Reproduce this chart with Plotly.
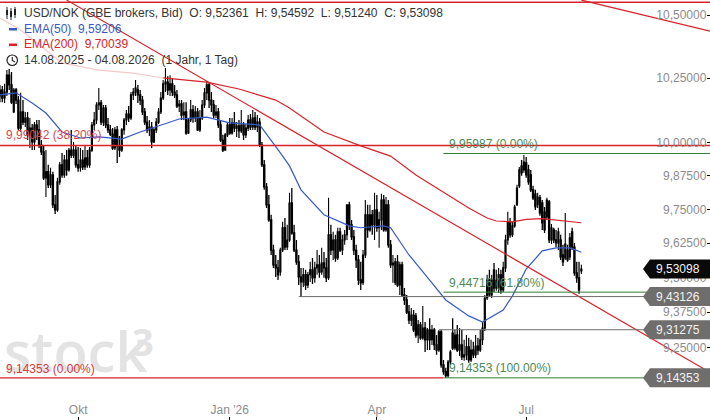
#!/usr/bin/env python3
# -*- coding: utf-8 -*-

# Import packages
import math
import pandas as pd
import plotly.graph_objects as go

###############################################################################
# Data (daily candles)
###############################################################################

first_day = "2025-08-14"
axis_end = "2026-10-21"

open_prices = [
    10.181,10.204,10.173,10.196,10.262,10.224,10.119,10.204,10.165,10.057,
    10.119,10.080,10.096,10.031,10.057,10.004,10.069,10.050,9.992,9.966,
    9.868,9.891,9.842,9.879,9.767,9.748,9.853,9.917,9.879,9.935,
    9.898,9.973,9.954,9.973,9.917,9.906,9.935,9.909,9.943,9.917,
    9.973,10.069,10.088,10.146,10.154,10.080,10.134,10.069,10.050,10.034,
    9.981,10.050,9.989,9.973,10.050,10.088,10.111,10.096,10.185,10.196,
    10.204,10.185,10.165,10.119,10.080,10.050,10.061,10.004,10.050,10.080,
    10.119,10.173,10.228,10.235,10.204,10.228,10.196,10.185,10.142,10.150,
    10.107,10.119,10.038,10.088,10.127,10.096,10.119,10.050,10.096,10.146,
    10.193,10.224,10.165,10.146,10.107,10.119,10.069,10.011,9.973,10.031,
    10.069,10.038,10.077,10.057,10.065,10.046,10.069,10.031,10.057,10.088,
    10.061,10.096,10.061,10.080,9.992,9.917,9.834,9.767,9.711,9.600,
    9.546,9.535,9.520,9.600,9.682,9.611,9.637,9.774,9.663,9.600,
    9.557,9.502,9.484,9.510,9.473,9.510,9.528,9.499,9.535,9.546,
    9.520,9.553,9.535,9.499,9.656,9.600,9.637,9.571,9.667,9.600,
    9.637,9.656,9.767,9.693,9.648,9.600,9.564,9.491,9.481,9.582,
    9.730,9.674,9.730,9.693,9.748,9.682,9.711,9.785,9.674,9.767,
    9.619,9.546,9.481,9.557,9.473,9.546,9.437,9.419,9.376,9.347,
    9.365,9.362,9.294,9.330,9.284,9.319,9.277,9.312,9.277,
    9.312,9.259,9.241,9.305,9.189,9.165,9.151,9.199,9.301,9.248,
    9.294,9.241,9.259,9.217,9.224,9.252,9.206,9.241,9.224,9.255,
    9.241,9.277,9.319,9.426,9.491,9.437,9.528,9.462,9.462,9.510,9.455,
    9.535,9.637,9.704,9.656,9.689,9.767,9.838,9.913,9.898,9.924,
    9.898,9.879,9.823,9.808,9.767,9.793,9.774,9.741,9.722,9.778,
    9.637,9.674,9.637,9.626,9.637,9.582,9.571,9.600,9.575,9.667,
    9.611,9.517,9.499,9.52361]

high_prices = [
    10.224,10.220,10.228,10.282,10.286,10.274,10.212,10.212,10.181,10.193,
    10.165,10.119,10.119,10.096,10.073,10.080,10.088,10.088,10.011,9.989,
    9.973,9.917,9.906,9.891,9.804,9.868,9.928,9.962,9.954,9.973,
    9.981,10.050,10.004,9.992,9.985,9.981,9.973,9.989,9.973,9.985,
    10.080,10.119,10.157,10.212,10.165,10.146,10.146,10.096,10.069,10.057,
    10.061,10.065,10.027,10.057,10.096,10.127,10.142,10.196,10.212,10.243,
    10.224,10.204,10.181,10.134,10.103,10.088,10.080,10.057,10.096,10.134,
    10.196,10.243,10.290,10.258,10.262,10.251,10.224,10.204,10.165,10.165,
    10.157,10.157,10.096,10.165,10.146,10.142,10.134,10.127,10.165,10.212,
    10.239,10.235,10.196,10.165,10.146,10.134,10.088,10.031,10.038,10.080,
    10.096,10.096,10.119,10.080,10.088,10.127,10.080,10.073,10.107,10.111,
    10.127,10.119,10.107,10.096,10.004,9.935,9.849,9.804,9.730,9.619,
    9.582,9.564,9.608,9.704,9.718,9.693,9.812,9.830,9.693,9.637,
    9.582,9.535,9.535,9.528,9.520,9.557,9.571,9.557,9.600,9.582,
    9.608,9.593,9.571,9.793,9.693,9.667,9.656,9.682,9.682,9.656,
    9.674,9.767,9.778,9.711,9.674,9.619,9.582,9.557,9.600,9.785,
    9.767,9.767,9.748,9.812,9.804,9.741,9.808,9.804,9.796,9.785,
    9.637,9.582,9.571,9.582,9.557,9.557,9.462,9.437,9.401,9.390,
    9.383,9.372,9.347,9.340,9.397,9.340,9.319,9.354,9.330,
    9.319,9.294,9.312,9.312,9.206,9.179,9.206,9.241,9.354,9.312,
    9.330,9.319,9.312,9.277,9.294,9.284,9.277,9.270,9.294,9.284,
    9.312,9.340,9.437,9.510,9.528,9.510,9.553,9.528,9.535,9.528,9.557,
    9.656,9.741,9.718,9.704,9.767,9.842,9.909,9.935,9.954,9.947,
    9.917,9.898,9.838,9.823,9.812,9.804,9.785,9.759,9.793,9.785,
    9.696,9.682,9.674,9.682,9.656,9.619,9.737,9.619,9.663,9.682,
    9.626,9.557,9.557,9.54592]

low_prices = [
    10.157,10.157,10.154,10.181,10.204,10.150,10.115,10.150,10.050,10.042,
    10.069,10.061,10.011,9.981,9.973,9.973,10.011,9.981,9.954,9.860,
    9.796,9.830,9.830,9.755,9.733,9.741,9.842,9.868,9.868,9.876,
    9.891,9.943,9.943,9.906,9.891,9.891,9.898,9.898,9.906,9.906,
    9.966,10.050,10.073,10.127,10.069,10.065,10.057,10.038,10.027,9.973,
    9.973,9.924,9.947,9.966,10.031,10.069,10.080,10.088,10.165,10.181,
    10.154,10.146,10.107,10.069,10.038,10.027,9.981,10.000,10.038,10.073,
    10.111,10.165,10.196,10.185,10.181,10.181,10.173,10.134,10.119,10.088,
    10.088,10.031,10.034,10.080,10.077,10.080,10.046,10.042,10.088,10.134,
    10.165,10.134,10.119,10.096,10.096,10.057,10.004,9.966,9.970,10.023,
    10.031,10.031,10.042,10.023,10.019,10.038,10.011,10.019,10.046,10.050,
    10.050,10.050,10.042,9.985,9.909,9.823,9.755,9.704,9.582,9.535,
    9.502,9.491,9.506,9.593,9.600,9.600,9.630,9.656,9.593,9.546,
    9.473,9.430,9.466,9.455,9.462,9.484,9.477,9.481,9.510,9.499,
    9.510,9.499,9.484,9.491,9.582,9.564,9.557,9.564,9.593,9.582,
    9.619,9.637,9.674,9.637,9.582,9.535,9.473,9.455,9.473,9.571,
    9.645,9.667,9.656,9.637,9.667,9.608,9.674,9.667,9.667,9.608,
    9.535,9.481,9.473,9.466,9.437,9.430,9.401,9.369,9.333,9.326,
    9.305,9.284,9.266,9.277,9.277,9.234,9.241,9.241,9.259,
    9.241,9.224,9.234,9.179,9.154,9.14353,9.144,9.189,9.241,9.241,
    9.234,9.220,9.206,9.203,9.206,9.196,9.199,9.213,9.213,9.224,
    9.234,9.259,9.308,9.419,9.430,9.426,9.448,9.452,9.444,9.441,9.448,
    9.520,9.619,9.645,9.648,9.682,9.763,9.830,9.876,9.887,9.868,
    9.842,9.815,9.785,9.748,9.755,9.726,9.674,9.663,9.711,9.626,
    9.622,9.626,9.611,9.600,9.564,9.542,9.564,9.557,9.564,9.600,
    9.506,9.481,9.441,9.5124]

close_prices = [
    10.204,10.173,10.196,10.262,10.224,10.157,10.204,10.165,10.057,10.119,
    10.080,10.096,10.031,10.057,10.004,10.069,10.050,9.992,9.966,9.868,
    9.891,9.842,9.879,9.767,9.748,9.853,9.917,9.879,9.935,9.898,
    9.973,9.954,9.973,9.917,9.906,9.935,9.909,9.943,9.917,9.973,
    10.069,10.088,10.146,10.154,10.080,10.134,10.069,10.050,10.034,9.981,
    10.050,9.989,9.973,10.050,10.088,10.111,10.096,10.185,10.196,10.212,
    10.185,10.165,10.119,10.080,10.050,10.061,10.004,10.050,10.080,10.119,
    10.173,10.228,10.235,10.204,10.228,10.196,10.185,10.142,10.150,10.107,
    10.119,10.038,10.088,10.127,10.096,10.119,10.050,10.096,10.146,10.193,
    10.224,10.165,10.146,10.107,10.119,10.069,10.011,9.973,10.031,10.069,
    10.038,10.077,10.057,10.065,10.046,10.069,10.031,10.057,10.088,10.061,
    10.096,10.061,10.080,9.992,9.917,9.834,9.767,9.711,9.600,9.546,
    9.535,9.510,9.600,9.682,9.611,9.637,9.774,9.663,9.600,9.557,
    9.502,9.484,9.510,9.473,9.510,9.528,9.499,9.535,9.546,9.520,
    9.553,9.535,9.499,9.656,9.600,9.637,9.571,9.667,9.600,9.637,
    9.656,9.767,9.693,9.648,9.600,9.564,9.491,9.481,9.582,9.730,
    9.674,9.730,9.693,9.748,9.682,9.711,9.785,9.674,9.767,9.619,
    9.546,9.553,9.557,9.473,9.546,9.437,9.419,9.376,9.347,9.365,
    9.312,9.294,9.330,9.284,9.319,9.277,9.312,9.277,9.312,
    9.259,9.241,9.305,9.189,9.165,9.151,9.199,9.234,9.248,9.294,
    9.241,9.259,9.217,9.224,9.252,9.206,9.241,9.224,9.255,9.241,
    9.277,9.319,9.426,9.491,9.437,9.491,9.462,9.490,9.510,9.455,9.535,
    9.637,9.704,9.656,9.689,9.759,9.830,9.898,9.887,9.928,9.879,
    9.853,9.823,9.793,9.759,9.796,9.737,9.700,9.674,9.785,9.637,
    9.682,9.637,9.626,9.667,9.575,9.557,9.622,9.564,9.645,9.611,
    9.517,9.499,9.455,9.53098]

# Moving averages: trading day number since first_day, value
ema50_days = [0,7,14,20,27,35,43,53,61,73,78,90,100,113,117,122,126,131,141,
              152,157,167,170,178,187,194,204,210,219,223,229,236,242,248,253]
ema50 = [10.185,10.193,10.154,10.115,10.042,10.019,10.023,10.015,10.042,10.077,
         10.092,10.099,10.077,10.069,10.023,9.962,9.913,9.823,9.730,9.689,9.682,
         9.689,9.682,9.582,9.491,9.419,9.362,9.340,9.383,9.433,9.531,9.597,
         9.608,9.608,9.59206]

ema200_days = [0,9,27,43,58,71,90,104,120,126,141,157,170,181,204,212,216,223,
               229,236,247,253]
ema200 = [10.488,10.440,10.310,10.282,10.270,10.251,10.235,10.208,10.165,10.134,
          10.042,9.989,9.950,9.879,9.755,9.718,9.707,9.704,9.713,9.716,9.707,
          9.70039]
ema200_fade_until = 5  # the first stretch is drawn pale

# Trend lines
trend1_dates = ["2025-09-24", "2026-10-19"]
trend1_prices = [10.560, 9.172]
trend2_dates = ["2026-08-04", axis_end]
trend2_prices = [10.560, 10.436]

# Levels
top_level = 10.551
fib_red_382 = 9.99042
fib_low = 9.14353
fib_high = 9.95987
fib_green_618 = 9.44716
support_1 = 9.43126
support_2 = 9.31275
last_close = 9.53098
level_start_day = 193
support_1_day = 130
support_2_day = 191

# Tick labels
y_ticks = [10.5, 10.25, 10.0, 9.875, 9.75, 9.625, 9.5, 9.375, 9.25]
y_labels = ["10,50000", "10,25000", "10,00000", "9,87500", "9,75000", "9,62500",
            "9,50000", "9,37500", "9,25000"]
x_ticks = ["2025-10-01", "2026-01-01", "2026-04-01", "2026-07-01"]
x_labels = ["Okt", "Jan '26", "Apr", "Jul"]

###############################################################################
# Helpers
###############################################################################

W, H = 710, 420
FONT = "Liberation Sans"
RED = "#d8232a"
PALE_RED = "#f6c9c9"
BLUE = "#3559c7"
GREEN = "#2f7d36"
GREEN_TXT = "#4c8a55"
GRAY = "#6f6e6c"
TICK_TXT = "#8c8c8c"

y_range = [math.log10(8.9977), math.log10(10.5603)]

dates = pd.bdate_range(first_day, periods=len(close_prices))


def px_x(x):
    return x / W


def px_y(y):
    return 1 - y / H


def price_y(price):
    return (math.log10(price) - y_range[0]) / (y_range[1] - y_range[0])


def comma(value):
    return f"{value:.5f}".replace(".", ",")


fig = go.Figure()

###############################################################################
# Traces
###############################################################################

fig.add_trace(go.Candlestick(
    x=dates, open=open_prices, high=high_prices, low=low_prices, close=close_prices,
    increasing=dict(line=dict(color="black", width=1.1), fillcolor="white"),
    decreasing=dict(line=dict(color="black", width=1.3), fillcolor="black"),
    whiskerwidth=0, showlegend=False))


def add_line(x, y, color, width=1.2):
    fig.add_trace(go.Scatter(x=x, y=y, mode="lines", showlegend=False,
                             line=dict(color=color, width=width)))


add_line(dates[ema200_days[:ema200_fade_until + 1]], ema200[:ema200_fade_until + 1], PALE_RED)
add_line(dates[ema200_days[ema200_fade_until:]], ema200[ema200_fade_until:], RED)
add_line(dates[ema50_days], ema50, BLUE)
add_line(trend1_dates, trend1_prices, RED)
add_line(trend2_dates, trend2_prices, RED)

# Horizontal levels
red_width = 1.4
thin_width = 1
add_line([first_day, axis_end], [top_level, top_level], RED, red_width)
add_line([first_day, axis_end], [fib_red_382, fib_red_382], RED, red_width)
add_line([first_day, dates[level_start_day]], [fib_low, fib_low], RED, red_width)
add_line([dates[level_start_day], axis_end], [fib_low, fib_low], GREEN, thin_width)
add_line([dates[level_start_day], axis_end], [fib_high, fib_high], GREEN, thin_width)
add_line([dates[level_start_day], axis_end], [fib_green_618, fib_green_618], GREEN, thin_width)
add_line([dates[support_1_day], axis_end], [support_1, support_1], GRAY, thin_width)
add_line([dates[support_2_day], axis_end], [support_2, support_2], GRAY, thin_width)

###############################################################################
# Price tags, icons and texts
###############################################################################

shapes = []
annotations = []


def text(x, y, s, color, size=12, anchor="left", family=FONT, weight=None):
    font = dict(family=family, size=size, color=color)
    if weight:
        font["weight"] = weight
    annotations.append(dict(xref="paper", yref="paper", x=px_x(x), y=px_y(y), text=s,
                            showarrow=False, xanchor=anchor, yanchor="middle",
                            font=font, borderpad=0, bgcolor="rgba(0,0,0,0)"))


def tag(price, color):
    mid = price_y(price)
    half = 9.5 / H
    left, body = px_x(643), px_x(650)
    shapes.append(dict(type="path", xref="paper", yref="paper", line_width=0, fillcolor=color,
                       path=f"M {left} {mid} L {body} {mid + half} L 1 {mid + half} "
                            f"L 1 {mid - half} L {body} {mid - half} Z"))
    annotations.append(dict(xref="paper", yref="paper", x=px_x(702), y=mid, text=comma(price),
                            showarrow=False, xanchor="right", yanchor="middle",
                            font=dict(family=FONT, size=12, color="#f2f2f2")))


tag(last_close, "#0a0a0a")
tag(support_1, GRAY)
tag(support_2, GRAY)
tag(fib_low, GRAY)

# Legend icons
for x0, top, bot, wt, wb in [(7, 10, 15, 7, 19), (11, 11, 17, 8, 20), (15, 9, 15, 7, 18)]:
    shapes.append(dict(type="line", xref="paper", yref="paper", x0=px_x(x0), x1=px_x(x0),
                       y0=px_y(wt), y1=px_y(wb), line=dict(color="#222", width=1)))
    shapes.append(dict(type="rect", xref="paper", yref="paper", x0=px_x(x0 - 1), x1=px_x(x0 + 1),
                       y0=px_y(top), y1=px_y(bot), fillcolor="#222", line_width=0))
shapes.append(dict(type="rect", xref="paper", yref="paper", x0=px_x(9), x1=px_x(17),
                   y0=px_y(28), y1=px_y(30.5), fillcolor=BLUE, line_width=0))
shapes.append(dict(type="rect", xref="paper", yref="paper", x0=px_x(9), x1=px_x(17),
                   y0=px_y(43.5), y1=px_y(46), fillcolor=RED, line_width=0))
shapes.append(dict(type="circle", xref="paper", yref="paper", x0=px_x(7), x1=px_x(17.5),
                   y0=px_y(55), y1=px_y(65.5), line=dict(color="#222", width=1.2)))
shapes.append(dict(type="path", xref="paper", yref="paper", line=dict(color="#222", width=1.1),
                   path=f"M {px_x(12.3)} {px_y(57)} L {px_x(12.3)} {px_y(60.5)} L {px_x(15)} {px_y(62)}"))

# Watermark
text(3, 350, "stock", "#e3e3e3", size=56, family="Open Sans", weight=600)
text(131, 341, "3", "#e3e3e3", size=38, family="Open Sans", weight=700)

# Legend texts
text(23, 13, "USD/NOK (GBE brokers, Bid)  O: 9,52361  H: 9,54592  L: 9,51240  C: 9,53098", "#333333")
text(23, 29, "EMA(50)  9,59206", BLUE)
text(23, 44, "EMA(200)  9,70039", RED)
text(23, 60, "14.08.2025 - 04.08.2026  (1 Jahr, 1 Tag)", "#333333")

# Fibonacci labels
text(5, 135, f"{comma(fib_red_382)} (38.20%)", "#d64a4a")
text(5, 369, f"{comma(fib_low)} (0.00%)", "#d63a3a")
text(448, 144, f"{comma(fib_high)} (0.00%)", GREEN_TXT)
text(448, 283, f"{comma(fib_green_618)} (61.80%)", GREEN_TXT)
text(448, 368, f"{comma(fib_low)} (100.00%)", GREEN_TXT)

###############################################################################
# Layout
###############################################################################

fig.update_layout(
    width=W, height=H, margin=dict(l=0, r=0, t=0, b=0),
    plot_bgcolor="white", paper_bgcolor="white", showlegend=False,
    font=dict(family=FONT, size=12, color=TICK_TXT),
    shapes=shapes, annotations=annotations,
    xaxis=dict(range=[first_day, axis_end], rangeslider=dict(visible=False),
               rangebreaks=[dict(bounds=["sat", "mon"])],
               tickmode="array", tickvals=x_ticks, ticktext=x_labels,
               ticks="inside", ticklen=3, tickcolor="black", tickwidth=1,
               ticklabelposition="inside", showgrid=False, zeroline=False, showline=False,
               tickfont=dict(family=FONT, size=12, color=TICK_TXT)),
    yaxis=dict(type="log", range=y_range, side="right",
               tickmode="array", tickvals=y_ticks, ticktext=y_labels,
               ticks="inside", ticklen=3, tickcolor="black", tickwidth=1,
               ticklabelposition="inside", showgrid=False, zeroline=False, showline=False,
               tickfont=dict(family=FONT, size=12, color=TICK_TXT)))

# The page has a default body margin, drop it so the chart fills the window
fig.write_html("out.html", config={"displayModeBar": False},
               post_script="document.body.style.margin = '0';")
